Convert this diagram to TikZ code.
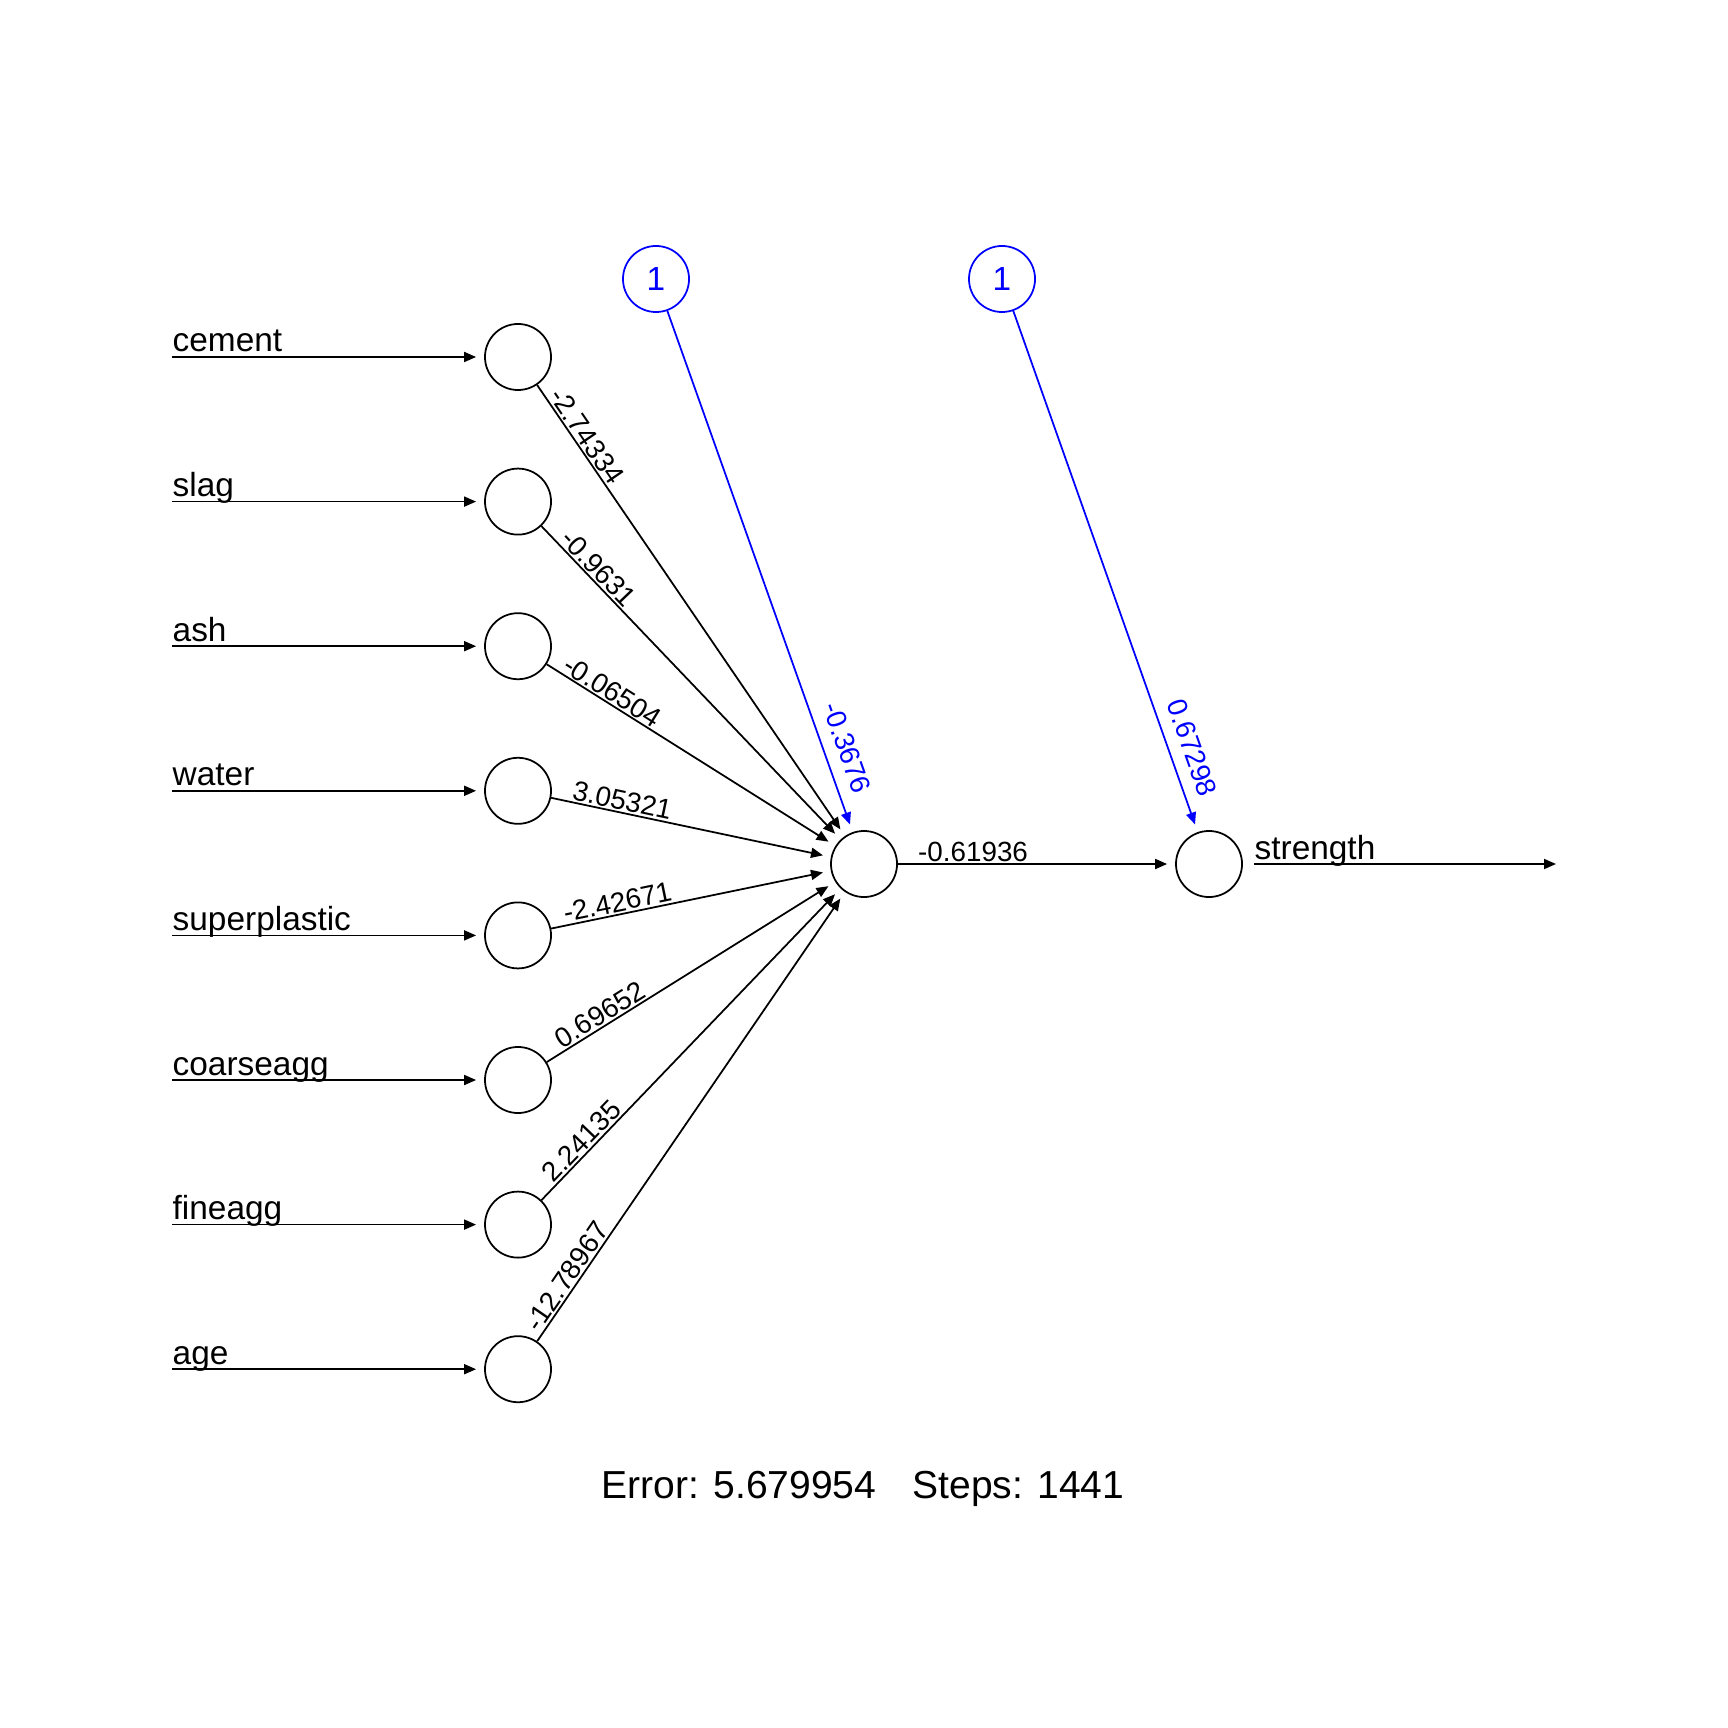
\documentclass[tikz,border=0pt]{standalone}
\usepackage{fontspec}
\setmainfont{Liberation Sans}
\usetikzlibrary{arrows.meta,calc}
\tikzset{
    neuron/.style = {draw, circle, minimum size=0.66cm, inner sep=0pt, line width=0.5pt},
    bias-neuron/.style = {neuron, draw=blue, text=blue, font=\fontsize{9.5}{11}\selectfont},
    arr/.style = {-{Triangle[length=0.12cm, width=0.1cm]}, line width=0.5pt, shorten >=0.08cm},
    var-label/.style = {anchor=base west, inner sep=0pt, font=\fontsize{9.5}{11}\selectfont, yshift=0.05cm},
    weight/.style = {sloped, anchor=south, inner sep=0.5pt, font=\fontsize{7.9}{9}\selectfont},
}
\begin{document}
\begin{tikzpicture}[x=0.01cm, y=-0.01cm]
\useasboundingbox (0,0) rectangle (1728,1728);

% input layer
\foreach \name [count=\k] in {cement,slag,ash,water,superplastic,coarseagg,fineagg,age} {
    \pgfmathsetmacro\y{212.4+144.6*\k}
    \node[neuron] (i\k) at (518,\y) {};
    \coordinate (s\k) at (172,\y);
    \node[var-label] at (s\k) {\name};
    \draw[arr] (s\k) -- (i\k);
}

% hidden, output and bias nodes
\node[neuron] (h) at (864,864) {};
\node[neuron] (o) at (1209,864) {};
\node[bias-neuron] (b1) at (656,279) {1};
\node[bias-neuron] (b2) at (1002,279) {1};

% weights into the hidden node
\foreach \w [count=\k] in {-2.74334,-0.9631,-0.06504,3.05321,-2.42671,0.69652,2.24135,-12.78967} {
    \draw[arr] (i\k) -- (h);
    \path ($(i\k)!1.04cm!(h)$) -- (h) node[weight, pos=0] {\w};
}

\draw[arr, blue] (b1) -- (h);
\path (b1) -- ($(h)!1.15cm!(b1)$) node[weight, pos=1, blue, inner ysep=3.5pt] {-0.3676};

\draw[arr] (h) -- (o);
\path ($(h)!1.09cm!(o)$) -- (o) node[weight, pos=0] {-0.61936};

\draw[arr, blue] (b2) -- (o);
\path (b2) -- ($(o)!1.15cm!(b2)$) node[weight, pos=1, blue, inner ysep=3.5pt] {0.67298};

% output
\coordinate (e) at (1564,864);
\draw[arr, shorten <=0.11cm] (o) -- (e);
\node[var-label] at ($(o.east)+(0.11cm,0)$) {strength};

\node[font=\fontsize{11.1}{13}\selectfont] (err) at (863,1489) {Error: 5.679954\hspace{0.36cm}Steps: 1441};
\end{tikzpicture}
\end{document}
